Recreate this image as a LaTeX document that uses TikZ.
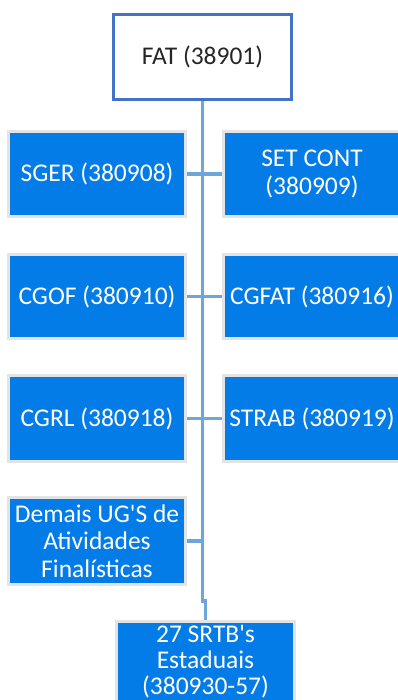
\documentclass[tikz,border=0pt]{standalone}
\usepackage{fontspec}
\setmainfont{Carlito}[Ligatures=TeXOff]
\definecolor{boxblue}{RGB}{4,124,232}
\definecolor{boxgray}{RGB}{228,228,228}
\definecolor{fatborder}{RGB}{68,114,196}
\definecolor{conncol}{RGB}{108,166,218}
\begin{document}
\begin{tikzpicture}[x=1pt,y=-1pt,
  unit/.style={draw=boxgray,line width=3pt,fill=boxblue,text=white,
    minimum width=177pt,minimum height=85pt,inner sep=0pt,align=center,
    font=\fontsize{25.5pt}{27.5pt}\selectfont},
  fatbox/.style={draw=fatborder,line width=3pt,fill=white,text=black!85,
    minimum width=178pt,minimum height=85pt,inner sep=0pt,
    font=\fontsize{25.5pt}{27.5pt}\selectfont},
  conn/.style={draw=conncol,line width=3.2pt}]
\useasboundingbox (0,0) rectangle (398,700);
\clip (0,0) rectangle (398,700);
\fill[white] (0,0) rectangle (398,700);
\node[fatbox] (fat) at (202.5,57) {FAT (38901)};
\node[unit] (sger) at (97,174) {SGER (380908)};
\node[unit] (setc) at (312,174) {SET CONT\\(380909)};
\node[unit,minimum height=84pt] (cgof) at (97,296.5) {CGOF (380910)};
\node[unit,minimum height=84pt] (cgfat) at (312,296.5) {CGFAT (380916)};
\node[unit,minimum height=86pt] (cgrl) at (97,418.5) {CGRL (380918)};
\node[unit,minimum height=86pt] (strab) at (312,418.5) {STRAB (380919)};
\node[unit,minimum height=87pt] (demais) at (97,541) {Demais UG'S de\\Atividades\\Finalísticas};
\node[unit,minimum width=178pt,minimum height=100pt,anchor=north] (srtb) at (205.5,619.5) {};
\node[text=white,align=center,font=\fontsize{25.5pt}{26pt}\selectfont,inner sep=0pt] (srtbtxt) at (205.5,662) {27 SRTB's\\Estaduais\\(380930-57)};
\coordinate (jog) at (0,601);
\draw[conn] (fat.south) -- (fat.south |- jog) -- (srtb.north |- jog) -- (srtb.north);
\draw[conn] (sger.east) -- (setc.west);
\draw[conn] (cgof.east) -- (cgfat.west);
\draw[conn] (cgrl.east) -- (strab.west);
\draw[conn] (demais.east) -- (demais.east -| fat.south);
\end{tikzpicture}
\end{document}
